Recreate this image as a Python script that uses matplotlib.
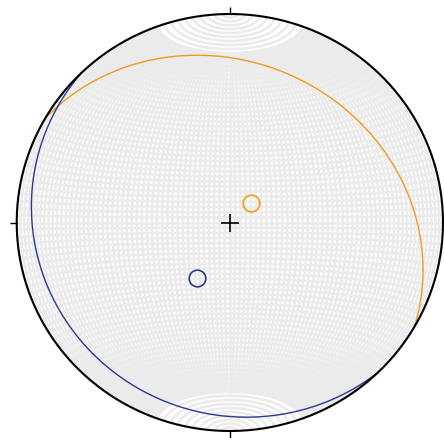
import numpy as np
import matplotlib
matplotlib.use("Agg")
import matplotlib.pyplot as plt

# planes as strike / dip (right-hand rule)
plane_strikes = [300, 136]
plane_dips = [25, 11]
plane_colors = ["#f39a1e", "#2b3990"]

# poles (trend / plunge), colours as in the reference
pole_trends = [46, 210]
pole_plunges = [79, 65]
pole_colors = ["#f39a1e", "#2b3990"]


def project(e, n, d):
    # lower-hemisphere equal-area (Lambert), unit primitive circle
    s = np.sqrt(1.0 + d)
    return e / s, n / s


def line_xy(trend, plunge):
    t, p = np.radians(trend), np.radians(plunge)
    e = np.cos(p) * np.sin(t)
    n = np.cos(p) * np.cos(t)
    d = np.sin(p)
    return project(e, n, d)


def plane_xy(strike, dip):
    dipdir = strike + 90
    az = np.linspace(strike, strike + 180, 361)
    app = np.degrees(np.arctan(np.tan(np.radians(dip)) * np.cos(np.radians(az - dipdir))))
    return line_xy(az, app)


def grid_xy(lon, lat):
    lon, lat = np.radians(lon), np.radians(lat)
    e = np.cos(lat) * np.sin(lon)
    n = np.sin(lat)
    d = np.cos(lat) * np.cos(lon)
    return project(e, n, d)


fig = plt.figure(figsize=(4.44, 4.39), dpi=100)
ax = fig.add_axes([16.7 / 444, 7 / 439, 426.3 / 444, 417 / 439])

# fine 2 degree equal-area net
grid_col = "#ebebeb"
lats = np.linspace(-70, 70, 200)
for lon in np.arange(-90, 91, 2):
    x, y = grid_xy(lon, lats)
    ax.plot(x, y, color=grid_col, lw=1.8, zorder=1)
lons = np.linspace(-90, 90, 300)
for lat in np.arange(-88, 89, 2):
    x, y = grid_xy(lons, lat)
    ax.plot(x, y, color=grid_col, lw=1.8, zorder=1)

for s, dp, c in zip(plane_strikes, plane_dips, plane_colors):
    x, y = plane_xy(s, dp)
    ax.plot(x, y, color=c, lw=1.0, zorder=3)

for t, p, c in zip(pole_trends, pole_plunges, pole_colors):
    x, y = line_xy(t, p)
    ax.plot(x, y, "o", mfc="none", mec=c, ms=12, mew=1.2, zorder=4)

ax.plot(0, 0, "+", color="black", ms=13, mew=1.2, zorder=4)

th = np.linspace(0, 2 * np.pi, 500)
ax.plot(np.cos(th), np.sin(th), color="black", lw=1.5, zorder=5, clip_on=False)

ax.set_xlim(-1, 1)
ax.set_ylim(-1, 1)
for sp in ax.spines.values():
    sp.set_visible(False)
ax.set_xticks([0])
ax.set_yticks([0])
ax.set_xticklabels([])
ax.set_yticklabels([])
ax.tick_params(direction="out", length=5, width=1, top=True, bottom=True,
               left=True, right=True)

fig.savefig("out.png", dpi=100)
